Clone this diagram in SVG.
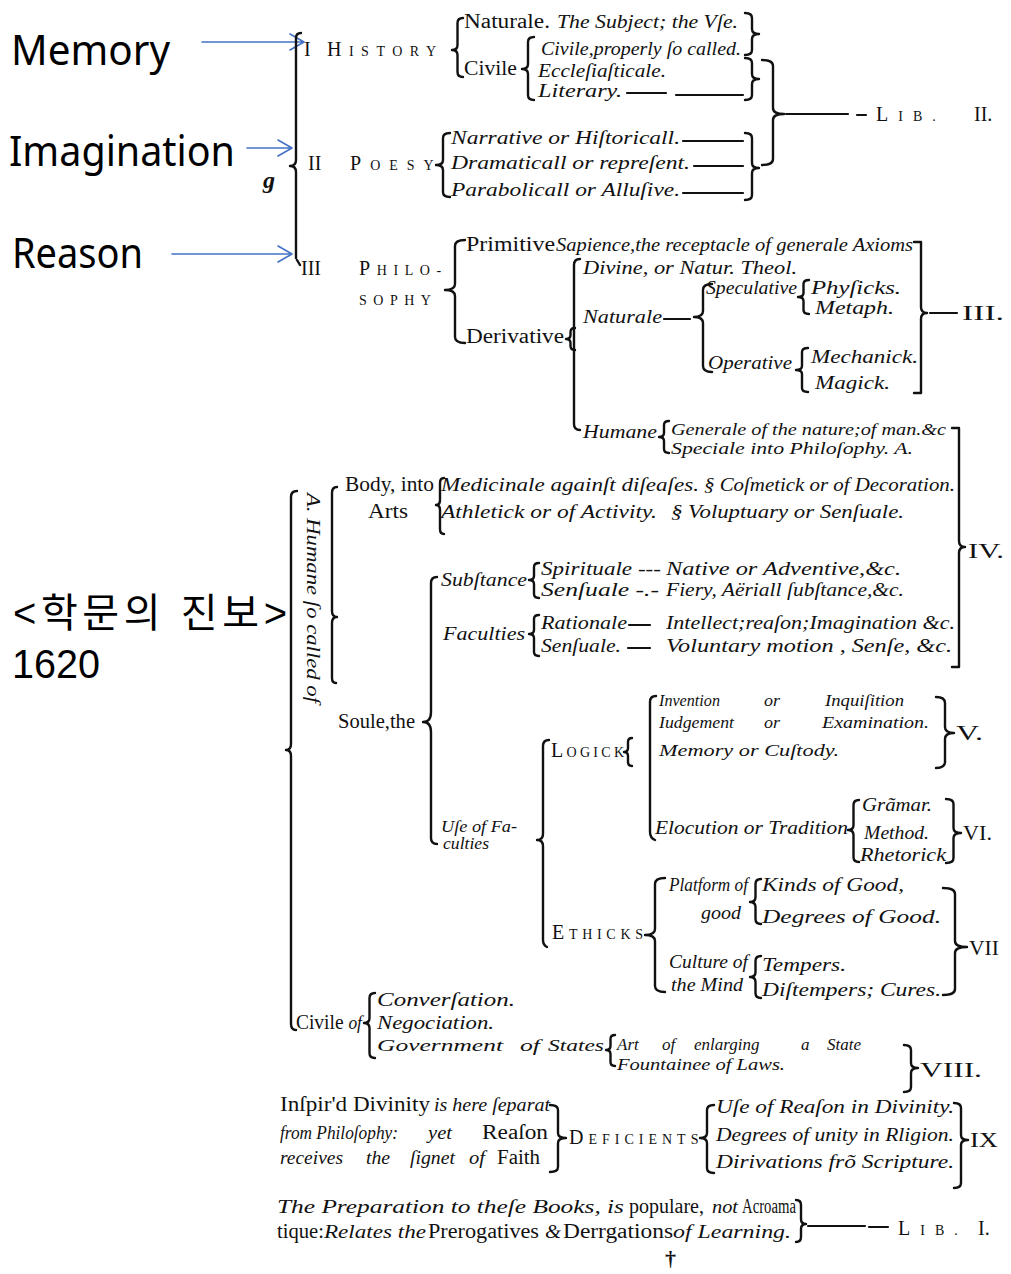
<svg xmlns="http://www.w3.org/2000/svg" width="1011" height="1274" viewBox="0 0 1011 1274">
<style>
.t{font-family:"Liberation Serif","Times New Roman",serif;font-size:20px;fill:#111}
.i{font-style:italic;font-size:19px}
.sm{font-size:17px}
.xs{font-size:16px}
.s{font-size:14px}
.b{fill:none;stroke:#111;stroke-width:2.4;stroke-linecap:round;stroke-linejoin:round}
.ln{stroke:#111;stroke-width:2.2;stroke-linecap:round}
.ann{font-family:"Noto Sans","Noto Sans CJK KR",sans-serif;font-size:41px;fill:#000}
.ko{font-family:"Liberation Sans","Noto Sans CJK KR",sans-serif;font-size:40px;fill:#000}
.arr{fill:none;stroke:#4472C4;stroke-width:1.6;stroke-linecap:round;stroke-linejoin:round}
</style>
<rect width="1011" height="1274" fill="#fff"/>

<g id="annotations">
<text class="ann" x="11" y="65" textLength="159" lengthAdjust="spacingAndGlyphs">Memory</text>
<text class="ann" x="9" y="166" textLength="226" lengthAdjust="spacingAndGlyphs">Imagination</text>
<text class="ann" x="12" y="268" textLength="131" lengthAdjust="spacingAndGlyphs">Reason</text>
<text class="ko" x="13" y="627" textLength="274">&lt;학문의 진보&gt;</text>
<text class="ko" x="12" y="678" style="font-size:41px" textLength="88" lengthAdjust="spacingAndGlyphs">1620</text>
<path class="arr" d="M202,42 L304,42 M290,34 L304,42 L290,50"/>
<path class="arr" d="M247,148 L292,148 M278,140 L292,148 L278,156"/>
<path class="arr" d="M172,254 L292,254 M278,246 L292,254 L278,262"/>
</g>

<g id="connectors">
<path class="b" d="M301,33 Q296,33 296,38 L296,160 Q296,166 290,166 Q296,166 296,172 L296,258 M297,260 L300,265"/>
<path class="b" d="M463,18 Q457.5,18 457.5,23 L457.5,45 Q457.5,50 452,50 Q457.5,50 457.5,55 L457.5,72 Q457.5,77 463,77"/>
<path class="b" d="M534,37 Q528,37 528,42 L528,64 Q528,69 522,69 Q528,69 528,74 L528,95 Q528,100 534,100"/>
<path class="b" d="M745,13 Q752,13 752,18 L752,29 Q752,34 759,34 Q752,34 752,39 L752,50 Q752,55 745,55"/>
<path class="b" d="M745,58 Q752,58 752,63 L752,74 Q752,79 759,79 Q752,79 752,84 L752,95 Q752,100 745,100"/>
<path class="b" d="M762,60 Q773,60 773,66 L773,108 Q773,114 784,114 Q773,114 773,120 L773,159 Q773,165 762,165"/>
<path class="b" d="M450,133 Q443,133 443,138 L443,160 Q443,165 436,165 Q443,165 443,170 L443,192 Q443,197 450,197"/>
<path class="b" d="M745,133 Q752,133 752,138 L752,163 Q752,168 759,168 Q752,168 752,173 L752,195 Q752,200 745,200"/>
<line class="ln" x1="627" y1="93" x2="666" y2="93"/>
<line class="ln" x1="676" y1="95" x2="743" y2="95"/>
<line class="ln" x1="683" y1="141" x2="743" y2="141"/>
<line class="ln" x1="694" y1="166" x2="743" y2="166"/>
<line class="ln" x1="683" y1="193" x2="743" y2="193"/>
<line class="ln" x1="786" y1="114" x2="848" y2="114"/>
<line class="ln" x1="857" y1="115" x2="866" y2="115"/>
<path class="b" d="M465,240 Q455,240 455,246 L455,284 Q455,290 445,290 Q455,290 455,296 L455,337 Q455,343 465,343"/>
<path class="b" d="M914,242 L921,242 L921,307 Q921,313 927,313 Q921,313 921,319 L921,393 L914,393"/>
<line class="ln" x1="930" y1="313" x2="957" y2="313"/>
<path class="b" d="M575,328 Q570.5,328 570.5,332 L570.5,335 Q570.5,339 566,339 Q570.5,339 570.5,343 L570.5,346 Q570.5,350 575,350"/>
<path class="b" d="M580,259 Q574,259 574,265 L574,424 Q574,430 580,430"/>
<line class="ln" x1="664" y1="319" x2="690" y2="319"/>
<path class="b" d="M712,284 Q703,284 703,290 L703,311 Q703,317 694,317 Q703,317 703,323 L703,366 Q703,372 712,372"/>
<path class="b" d="M809,280 Q803.5,280 803.5,284 L803.5,293 Q803.5,297 798,297 Q803.5,297 803.5,301 L803.5,310 Q803.5,314 809,314"/>
<path class="b" d="M808,348 Q802,348 802,352 L802,366 Q802,370 796,370 Q802,370 802,374 L802,388 Q802,392 808,392"/>
<path class="b" d="M669,421 Q664,421 664,425 L664,433 Q664,437 659,437 Q664,437 664,441 L664,449 Q664,453 669,453"/>
<path class="b" d="M952,428 L959,428 L959,541 Q959,547 965,547 Q959,547 959,553 L959,667 L952,667"/>
<path class="b" d="M297,491 Q291,491 291,497 L291,744 Q291,750 286,750 Q291,750 291,756 L291,1024 Q291,1030 296,1030"/>
<path class="b" d="M337,487 Q332,487 332,493 L332,611 Q332,617 337,617 Q332,617 332,623 L332,678 Q332,683 336,683"/>
<path class="b" d="M444,478 Q440,478 440,483 L440,500 Q440,505 436,505 Q440,505 440,510 L440,529 Q440,534 444,534"/>
<path class="b" d="M437,577 Q431,577 431,583 L431,712 Q431,722 423,722 Q431,722 431,732 L431,838 Q431,844 437,844"/>
<path class="b" d="M539,563 Q534,563 534,567 L534,576 Q534,580 529,580 Q534,580 534,584 L534,594 Q534,598 539,598"/>
<path class="b" d="M539,615 Q534,615 534,619 L534,630 Q534,634 529,634 Q534,634 534,638 L534,652 Q534,656 539,656"/>
<line class="ln" x1="629" y1="625" x2="650" y2="625"/>
<line class="ln" x1="628" y1="648" x2="650" y2="648"/>
<path class="b" d="M549,740 Q543,740 543,746 L543,834 Q543,840 537,840 Q543,840 543,846 L543,940 Q543,945 547,947"/>
<path class="b" d="M632,738 Q628,738 628,742 L628,748 Q628,752 624,752 Q628,752 628,756 L628,762 Q628,766 632,766"/>
<path class="b" d="M656,696 Q650,696 650,702 L650,832 Q650,838 655,840"/>
<path class="b" d="M936,697 Q945,697 945,703 L945,727 Q945,733 954,733 Q945,733 945,739 L945,762 Q945,768 936,768"/>
<path class="b" d="M859,800 Q853.5,800 853.5,805 L853.5,825 Q853.5,830 848,830 Q853.5,830 853.5,835 L853.5,857 Q853.5,862 859,862"/>
<path class="b" d="M946,799 Q953.5,799 953.5,804 L953.5,828 Q953.5,833 961,833 Q953.5,833 953.5,838 L953.5,858 Q953.5,863 946,863"/>
<path class="b" d="M665,878 Q655,878 655,884 L655,929 Q655,935 645,935 Q655,935 655,941 L655,986 Q655,992 665,992"/>
<path class="b" d="M761,879 Q755.5,879 755.5,884 L755.5,897 Q755.5,902 750,902 Q755.5,902 755.5,907 L755.5,919 Q755.5,924 761,924"/>
<path class="b" d="M761,956 Q755.5,956 755.5,961 L755.5,972 Q755.5,977 750,977 Q755.5,977 755.5,982 L755.5,993 Q755.5,998 761,998"/>
<path class="b" d="M943,888 Q955,888 955,894 L955,941 Q955,947 967,947 Q955,947 955,953 L955,989 Q955,995 943,995"/>
<path class="b" d="M375,993 Q369.5,993 369.5,998 L369.5,1018 Q369.5,1023 364,1023 Q369.5,1023 369.5,1028 L369.5,1053 Q369.5,1058 375,1058"/>
<path class="b" d="M615,1035 Q610.5,1035 610.5,1039 L610.5,1046 Q610.5,1050 606,1050 Q610.5,1050 610.5,1054 L610.5,1062 Q610.5,1066 615,1066"/>
<path class="b" d="M904,1045 Q911,1045 911,1050 L911,1063 Q911,1068 918,1068 Q911,1068 911,1073 L911,1087 Q911,1092 904,1092"/>
<path class="b" d="M550,1105 Q558,1105 558,1110 L558,1133 Q558,1138 566,1138 Q558,1138 558,1143 L558,1167 Q558,1172 550,1172"/>
<path class="b" d="M714,1105 Q707,1105 707,1110 L707,1133 Q707,1138 700,1138 Q707,1138 707,1143 L707,1168 Q707,1173 714,1173"/>
<path class="b" d="M954,1103 Q961,1103 961,1108 L961,1135 Q961,1140 968,1140 Q961,1140 961,1145 L961,1183 Q961,1188 954,1188"/>
<path class="b" d="M796,1200 Q801,1200 801,1205 L801,1219 Q801,1224 806,1224 Q801,1224 801,1229 L801,1237 Q801,1242 796,1242"/>
<line class="ln" x1="808" y1="1226" x2="865" y2="1226"/>
<line class="ln" x1="869" y1="1227" x2="888" y2="1227"/>
</g>

<g id="history">
<text class="t" x="464" y="28" textLength="86" lengthAdjust="spacingAndGlyphs">Naturale.</text>
<text class="t i" x="557" y="28" textLength="181" lengthAdjust="spacingAndGlyphs">The Subject; the Vſe.</text>
<text class="t" y="56"><tspan x="304">I</tspan> <tspan x="327" letter-spacing="7.5">H</tspan><tspan class="s" letter-spacing="7.5">ISTORY</tspan></text>
<text class="t i" x="541" y="55" textLength="200" lengthAdjust="spacingAndGlyphs">Civile,properly ſo called.</text>
<text class="t" x="464" y="75" textLength="53" lengthAdjust="spacingAndGlyphs">Civile</text>
<text class="t i" x="538" y="77" textLength="128" lengthAdjust="spacingAndGlyphs">Eccleſiaſticale.</text>
<text class="t i" x="538" y="97" textLength="84" lengthAdjust="spacingAndGlyphs">Literary.</text>
</g>

<g id="lib2">
<text class="t" y="121"><tspan x="876" letter-spacing="10">L</tspan><tspan class="s" letter-spacing="10">IB.</tspan> <tspan x="974">II.</tspan></text>
</g>

<g id="poesy">
<text class="t" y="170"><tspan x="308">II</tspan> <tspan x="350" letter-spacing="9">P</tspan><tspan class="s" letter-spacing="9">OESY</tspan></text>
<text class="t i" x="451" y="144" textLength="229" lengthAdjust="spacingAndGlyphs">Narrative or Hiſtoricall.</text>
<text class="t i" x="451" y="169" textLength="239" lengthAdjust="spacingAndGlyphs">Dramaticall or repreſent.</text>
<text class="t i" x="451" y="196" textLength="229" lengthAdjust="spacingAndGlyphs">Parabolicall or Alluſive.</text>
<text class="t i" x="263" y="188" font-weight="bold" style="font-size:24px">g</text>
</g>

<g id="philosophy">
<text class="t" y="275"><tspan x="301">III</tspan> <tspan x="359" letter-spacing="6.6">P</tspan><tspan class="s" letter-spacing="6.6">HILO-</tspan></text>
<text class="t" x="359" y="305" style="font-size:14px" letter-spacing="6.5">SOPHY</text>
<text class="t" x="466" y="251" textLength="89" lengthAdjust="spacingAndGlyphs">Primitive</text>
<text class="t i" x="556" y="251" textLength="357" lengthAdjust="spacingAndGlyphs">Sapience,the receptacle of generale Axioms</text>
<text class="t" x="466" y="343" textLength="98" lengthAdjust="spacingAndGlyphs">Derivative</text>
<text class="t i" x="583" y="274" textLength="214" lengthAdjust="spacingAndGlyphs">Divine, or Natur. Theol.</text>
<text class="t i" x="583" y="323" textLength="79" lengthAdjust="spacingAndGlyphs">Naturale</text>
<text class="t i" x="706" y="294" textLength="91" lengthAdjust="spacingAndGlyphs">Speculative</text>
<text class="t i" x="811" y="294" textLength="90" lengthAdjust="spacingAndGlyphs">Phyſicks.</text>
<text class="t i" x="815" y="314" textLength="79" lengthAdjust="spacingAndGlyphs">Metaph.</text>
<text class="t i" x="708" y="369" textLength="84" lengthAdjust="spacingAndGlyphs">Operative</text>
<text class="t i" x="811" y="363" textLength="107" lengthAdjust="spacingAndGlyphs">Mechanick.</text>
<text class="t i" x="815" y="389" textLength="75" lengthAdjust="spacingAndGlyphs">Magick.</text>
<text class="t i" x="583" y="438" textLength="74" lengthAdjust="spacingAndGlyphs">Humane</text>
<text class="t i xs" x="671" y="435" textLength="275" lengthAdjust="spacingAndGlyphs">Generale of the nature;of man.&amp;c</text>
<text class="t i xs" x="671" y="454" textLength="242" lengthAdjust="spacingAndGlyphs">Speciale into Philoſophy. A.</text>
<text class="t" x="962" y="320" textLength="42" lengthAdjust="spacingAndGlyphs">III.</text>
</g>

<g id="humane">
<text class="t i" transform="translate(307,493) rotate(90)" style="font-size:18px" textLength="210" lengthAdjust="spacingAndGlyphs">A. Humane ſo called of</text>
<text class="t" x="345" y="491" textLength="89" lengthAdjust="spacingAndGlyphs">Body, into</text>
<text class="t" x="368" y="518" textLength="40" lengthAdjust="spacingAndGlyphs">Arts</text>
<text class="t i" x="441" y="491" textLength="258" lengthAdjust="spacingAndGlyphs">Medicinale againſt diſeaſes.</text>
<text class="t i" x="704" y="491" textLength="251" lengthAdjust="spacingAndGlyphs">§ Coſmetick or of Decoration.</text>
<text class="t i" x="441" y="518" textLength="216" lengthAdjust="spacingAndGlyphs">Athletick or of Activity.</text>
<text class="t i" x="671" y="518" textLength="233" lengthAdjust="spacingAndGlyphs">§ Voluptuary or Senſuale.</text>
<text class="t" x="968" y="558" textLength="36" lengthAdjust="spacingAndGlyphs">IV.</text>
<text class="t i" x="441" y="586" textLength="86" lengthAdjust="spacingAndGlyphs">Subſtance</text>
<text class="t i" x="541" y="575" textLength="120" lengthAdjust="spacingAndGlyphs">Spirituale ---</text>
<text class="t i" x="666" y="575" textLength="235" lengthAdjust="spacingAndGlyphs">Native or Adventive,&amp;c.</text>
<text class="t i" x="541" y="596" textLength="118" lengthAdjust="spacingAndGlyphs">Senſuale -.-</text>
<text class="t i" x="666" y="596" textLength="238" lengthAdjust="spacingAndGlyphs">Fiery, Aëriall ſubſtance,&amp;c.</text>
<text class="t i" x="443" y="640" textLength="82" lengthAdjust="spacingAndGlyphs">Faculties</text>
<text class="t i" x="541" y="629" textLength="86" lengthAdjust="spacingAndGlyphs">Rationale</text>
<text class="t i" x="666" y="629" textLength="289" lengthAdjust="spacingAndGlyphs">Intellect;reaſon;Imagination &amp;c.</text>
<text class="t i" x="541" y="652" textLength="80" lengthAdjust="spacingAndGlyphs">Senſuale.</text>
<text class="t i" x="666" y="652" textLength="286" lengthAdjust="spacingAndGlyphs">Voluntary motion , Senſe, &amp;c.</text>
<text class="t" x="338" y="728" textLength="77" lengthAdjust="spacingAndGlyphs">Soule,the</text>
<text class="t i xs" x="441" y="832" textLength="76" lengthAdjust="spacingAndGlyphs">Uſe of Fa-</text>
<text class="t i xs" x="443" y="849" textLength="46" lengthAdjust="spacingAndGlyphs">culties</text>
</g>

<g id="logick">
<text class="t" y="757"><tspan x="551" letter-spacing="3.3">L</tspan><tspan class="s" letter-spacing="3.3">OGICK</tspan></text>
<text class="t i sm" x="659" y="706" textLength="61" lengthAdjust="spacingAndGlyphs">Invention</text>
<text class="t i sm" x="764" y="706" textLength="16" lengthAdjust="spacingAndGlyphs">or</text>
<text class="t i sm" x="825" y="706" textLength="79" lengthAdjust="spacingAndGlyphs">Inquiſition</text>
<text class="t i sm" x="659" y="728" textLength="75" lengthAdjust="spacingAndGlyphs">Iudgement</text>
<text class="t i sm" x="764" y="728" textLength="16" lengthAdjust="spacingAndGlyphs">or</text>
<text class="t i sm" x="822" y="728" textLength="107" lengthAdjust="spacingAndGlyphs">Examination.</text>
<text class="t i sm" x="659" y="756" textLength="180" lengthAdjust="spacingAndGlyphs">Memory or Cuſtody.</text>
<text class="t" x="956" y="740" textLength="27" lengthAdjust="spacingAndGlyphs">V.</text>
<text class="t i" x="655" y="834" textLength="193" lengthAdjust="spacingAndGlyphs">Elocution or Tradition</text>
<text class="t i" x="862" y="811" textLength="70" lengthAdjust="spacingAndGlyphs">Grãmar.</text>
<text class="t i" x="864" y="839" textLength="65" lengthAdjust="spacingAndGlyphs">Method.</text>
<text class="t i" x="860" y="861" textLength="86" lengthAdjust="spacingAndGlyphs">Rhetorick</text>
<text class="t" x="963" y="840" textLength="29" lengthAdjust="spacingAndGlyphs">VI.</text>
</g>

<g id="ethicks">
<text class="t" y="939"><tspan x="552" letter-spacing="4.7">E</tspan><tspan class="s" letter-spacing="4.7">THICKS</tspan></text>
<text class="t i" x="669" y="891" textLength="79" lengthAdjust="spacingAndGlyphs">Platform of</text>
<text class="t i" x="701" y="919" textLength="40" lengthAdjust="spacingAndGlyphs">good</text>
<text class="t i" x="762" y="891" textLength="142" lengthAdjust="spacingAndGlyphs">Kinds of Good,</text>
<text class="t i" x="762" y="923" textLength="179" lengthAdjust="spacingAndGlyphs">Degrees of Good.</text>
<text class="t i" x="669" y="968" textLength="79" lengthAdjust="spacingAndGlyphs">Culture of</text>
<text class="t i" x="671" y="991" textLength="72" lengthAdjust="spacingAndGlyphs">the Mind</text>
<text class="t i" x="762" y="971" textLength="84" lengthAdjust="spacingAndGlyphs">Tempers.</text>
<text class="t i" x="762" y="996" textLength="179" lengthAdjust="spacingAndGlyphs">Diſtempers; Cures.</text>
<text class="t" x="969" y="955" textLength="30" lengthAdjust="spacingAndGlyphs">VII</text>
</g>

<g id="civile">
<text class="t" x="296" y="1029" textLength="66" lengthAdjust="spacingAndGlyphs">Civile <tspan style="font-style:italic;font-size:18px">of</tspan></text>
<text class="t i" x="377" y="1006" textLength="138" lengthAdjust="spacingAndGlyphs">Converſation.</text>
<text class="t i" x="377" y="1029" textLength="117" lengthAdjust="spacingAndGlyphs">Negociation.</text>
<text class="t i sm" x="377" y="1051" textLength="126" lengthAdjust="spacingAndGlyphs">Government</text>
<text class="t i sm" x="520" y="1051" textLength="20" lengthAdjust="spacingAndGlyphs">of</text>
<text class="t i sm" x="548" y="1051" textLength="56" lengthAdjust="spacingAndGlyphs">States</text>
<text class="t i sm" y="1050"><tspan x="617">Art</tspan> <tspan x="662">of</tspan> <tspan x="694">enlarging</tspan> <tspan x="801">a</tspan> <tspan x="827">State</tspan></text>
<text class="t i sm" x="617" y="1070" textLength="168" lengthAdjust="spacingAndGlyphs">Fountainee of Laws.</text>
<text class="t" x="920" y="1077" textLength="62" lengthAdjust="spacingAndGlyphs">VIII.</text>
</g>

<g id="deficients">
<text class="t" x="280" y="1111" textLength="150" lengthAdjust="spacingAndGlyphs">Inſpir'd Divinity</text>
<text class="t i" x="434" y="1111" textLength="116" lengthAdjust="spacingAndGlyphs">is here ſeparat</text>
<text class="t i" x="280" y="1139" textLength="118" lengthAdjust="spacingAndGlyphs">from Philoſophy:</text>
<text class="t i" x="428" y="1139" textLength="24" lengthAdjust="spacingAndGlyphs">yet</text>
<text class="t" x="482" y="1139" textLength="66" lengthAdjust="spacingAndGlyphs">Reaſon</text>
<text class="t i" x="280" y="1164" textLength="63" lengthAdjust="spacingAndGlyphs">receives</text>
<text class="t i" x="366" y="1164" textLength="24" lengthAdjust="spacingAndGlyphs">the</text>
<text class="t i" x="410" y="1164" textLength="45" lengthAdjust="spacingAndGlyphs">ſignet</text>
<text class="t i" x="469" y="1164" textLength="16" lengthAdjust="spacingAndGlyphs">of</text>
<text class="t" x="497" y="1164" textLength="43" lengthAdjust="spacingAndGlyphs">Faith</text>
<text class="t" y="1144"><tspan x="569" letter-spacing="5">D</tspan><tspan class="s" letter-spacing="5">EFICIENTS</tspan></text>
<text class="t i" x="716" y="1113" textLength="238" lengthAdjust="spacingAndGlyphs">Uſe of Reaſon in Divinity.</text>
<text class="t i" x="716" y="1141" textLength="238" lengthAdjust="spacingAndGlyphs">Degrees of unity in Rligion.</text>
<text class="t i" x="716" y="1168" textLength="238" lengthAdjust="spacingAndGlyphs">Dirivations frõ Scripture.</text>
<text class="t" x="970" y="1147" textLength="28" lengthAdjust="spacingAndGlyphs">IX</text>
</g>

<g id="preparation">
<text class="t i" x="277" y="1213" textLength="347" lengthAdjust="spacingAndGlyphs">The Preparation to theſe Books, is</text>
<text class="t" x="629" y="1213" textLength="75" lengthAdjust="spacingAndGlyphs">populare,</text>
<text class="t i" x="712" y="1213" textLength="26" lengthAdjust="spacingAndGlyphs">not</text>
<text class="t" x="742" y="1213" textLength="54" lengthAdjust="spacingAndGlyphs">Acroama</text>
<text class="t" x="277" y="1238" textLength="47" lengthAdjust="spacingAndGlyphs">tique:</text>
<text class="t i" x="324" y="1238" textLength="102" lengthAdjust="spacingAndGlyphs">Relates the</text>
<text class="t" x="428" y="1238" textLength="111" lengthAdjust="spacingAndGlyphs">Prerogatives</text>
<text class="t i" x="545" y="1238" textLength="16" lengthAdjust="spacingAndGlyphs">&amp;</text>
<text class="t" x="563" y="1238" textLength="110" lengthAdjust="spacingAndGlyphs">Derrgations</text>
<text class="t i" x="673" y="1238" textLength="118" lengthAdjust="spacingAndGlyphs">of Learning.</text>
<text class="t" y="1235"><tspan x="898" letter-spacing="10">L</tspan><tspan class="s" letter-spacing="10">IB.</tspan> <tspan x="978">I.</tspan></text>
<text class="t" x="665" y="1266" font-weight="bold" style="font-size:22px">†</text>
</g>
</svg>
